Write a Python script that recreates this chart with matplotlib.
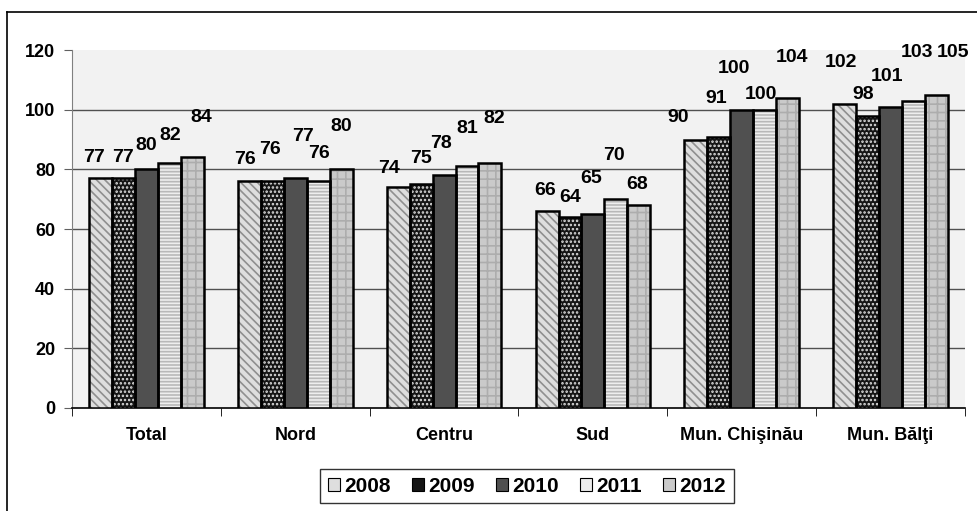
import matplotlib
matplotlib.use("Agg")
import matplotlib.pyplot as plt
from matplotlib.lines import Line2D
from matplotlib.patches import Patch
import numpy as np

plt.rcParams['font.family'] = ['Liberation Sans', 'DejaVu Sans']
plt.rcParams['font.weight'] = 'bold'
plt.rcParams['hatch.linewidth'] = 1.2

categories = ["Total", "Nord", "Centru", "Sud", "Mun. Chişinău", "Mun. Bălţi"]
years = ["2008", "2009", "2010", "2011", "2012"]
v2008 = [77, 76, 74, 66, 90, 102]
v2009 = [77, 76, 75, 64, 91, 98]
v2010 = [80, 77, 78, 65, 100, 101]
v2011 = [82, 76, 81, 70, 100, 103]
v2012 = [84, 80, 82, 68, 104, 105]
series = [v2008, v2009, v2010, v2011, v2012]

# label offsets (pixels) relative to bar top centre, per series x category
label_dx = [[-7, -4, -9, -2, -18, -4],
            [0, -2, 0, 0, -3, -4],
            [0, 8, -3, -2, -8, -4],
            [1, 1, 0, -2, -4, 3],
            [9, 0, 4, -2, 4, 17]]
label_dy = [[21, 22, 19, 21, 22, 41],
            [21, 32, 26, 20, 38, 21],
            [24, 42, 32, 36, 41, 30],
            [28, 28, 38, 44, 15, 48],
            [40, 43, 45, 21, 40, 42]]

faces = ['#dedede', '#151515', '#505050', '#eeeeee', '#cacaca']
hatch_cols = ['#8f8f8f', '#e0e0e0', '#5a5a5a', '#b8b8b8', '#adadad']
hatches = ['\\\\\\\\', '....', '', '-----', '++']

fig = plt.figure(figsize=(9.78, 5.11), dpi=100)
fig.patch.set_facecolor('white')
ax = fig.add_axes([72/978, 1-408/511, (965-72)/978, (408-50)/511])
ax.set_facecolor('#f2f2f2')

x = np.arange(len(categories))
w = 0.154
for j, vals in enumerate(series):
    pos = x + (j - 2) * w
    ax.bar(pos, vals, width=w, color=faces[j], edgecolor=hatch_cols[j],
           hatch=hatches[j], linewidth=0, zorder=3)
    ax.bar(pos, vals, width=w, fill=False, edgecolor='black', linewidth=1.8,
           zorder=4)
    for i, v in enumerate(vals):
        ax.annotate(str(v), (pos[i], v), xytext=(label_dx[j][i], label_dy[j][i]),
                    textcoords='offset pixels', ha='center', va='center',
                    fontsize=14, fontweight='bold', zorder=5,
                    annotation_clip=False)

ax.set_ylim(0, 120)
ax.set_xlim(-0.5, len(categories) - 0.5)
ax.set_yticks(np.arange(0, 121, 20))
for gy in range(20, 101, 20):
    ax.axhline(gy, color='#505050', linewidth=1.0, zorder=1)

for s in ['top', 'right']:
    ax.spines[s].set_visible(False)
ax.spines['left'].set_color('#808080')
ax.spines['bottom'].set_color('black')
ax.spines['bottom'].set_linewidth(1.2)

ax.set_xticks(x)
ax.set_xticklabels(categories, fontsize=13, fontweight='bold')
ax.set_xticks(np.arange(-0.5, len(categories), 1.0), minor=True)
ax.tick_params(axis='x', which='major', length=0, pad=14)
ax.tick_params(axis='x', which='minor', length=6, color='black', direction='out')
ax.tick_params(axis='y', length=6, color='#606060', labelsize=13, pad=6)
for lab in ax.get_yticklabels():
    lab.set_fontweight('bold')

# legend
handles = [Patch(facecolor=faces[j], edgecolor='black', linewidth=0.8)
           for j in range(5)]
leg = fig.legend(handles, years, loc='center', bbox_to_anchor=(527/978, 1-486/511),
                 ncol=5, frameon=True, fancybox=False, edgecolor='black',
                 prop={'weight': 'bold', 'size': 15}, handlelength=0.6,
                 handleheight=0.6, handletextpad=0.2, columnspacing=1.0,
                 borderpad=0.35)
leg.get_frame().set_linewidth(1.0)

# figure border (chart area)
fig.add_artist(Line2D([7/978, 7/978], [0, 1-12/511], color='black', linewidth=1.2,
                      transform=fig.transFigure))
fig.add_artist(Line2D([7/978, 1], [1-12/511, 1-12/511], color='black', linewidth=1.2,
                      transform=fig.transFigure))

fig.savefig('out.png', dpi=100)
